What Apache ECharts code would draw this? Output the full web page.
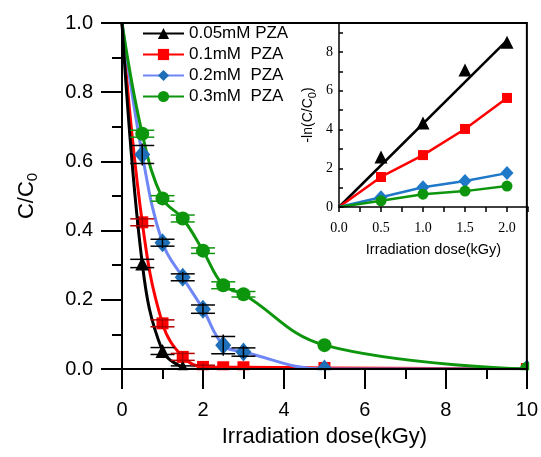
<!DOCTYPE html>
<html><head><meta charset="utf-8">
<script src="https://cdn.jsdelivr.net/npm/echarts@6/dist/echarts.min.js"></script>
<style>html,body{margin:0;padding:0;background:#fff}#c{width:541px;height:457px}</style>
</head><body><div id="c"></div>
<script>
// ---- Main plot data (C/C0 vs dose, kGy) ----
const seriesNames = ['0.05mM PZA', '0.1mM  PZA', '0.2mM  PZA', '0.3mM  PZA'];
const blackX = [0, 0.5, 1.0, 1.5];
const blackY = [1.0, 0.305, 0.052, 0.005];
const blackErr = [0, 0.012, 0.01, 0.004];
const redX = [0, 0.5, 1.0, 1.5, 2.0, 2.5, 3.0, 5.0, 10];
const redY = [1.0, 0.424, 0.132, 0.035, 0.006, 0.005, 0.005, 0.003, 0.0];
const redErr = [0, 0.01, 0.01, 0.01, 0.005, 0, 0, 0, 0];
const blueX = [0, 0.5, 1.0, 1.5, 2.0, 2.5, 3.0, 5.0, 10];
const blueY = [1.0, 0.62, 0.365, 0.265, 0.173, 0.069, 0.049, 0.0, 0.0];
const blueErr = [0, 0.026, 0.01, 0.01, 0.012, 0.025, 0.012, 0, 0];
const greenX = [0, 0.5, 1.0, 1.5, 2.0, 2.5, 3.0, 5.0, 10];
const greenY = [1.0, 0.68, 0.493, 0.435, 0.342, 0.242, 0.216, 0.069, 0.0];
const greenErr = [0, 0.01, 0.008, 0.01, 0.008, 0.01, 0.008, 0, 0];
const mainXTicks = [0, 2, 4, 6, 8, 10];
const mainYTicks = [0.0, 0.2, 0.4, 0.6, 0.8, 1.0];

// ---- Inset data (-ln(C/C0) vs dose) ----
const insetX = [0, 0.5, 1.0, 1.5, 2.0];
const insetBlackPts = [null, 2.58, 4.34, 7.07, 8.5];
const insetBlackFitX = [0, 2.0];
const insetBlackFitY = [0, 8.6];
const insetRed = [0, 1.55, 2.68, 4.03, 5.63];
const insetBlue = [0, 0.5, 1.02, 1.34, 1.75];
const insetGreen = [0, 0.32, 0.66, 0.82, 1.08];

const FONT = 'Liberation Sans, Arial, sans-serif';
const SERIF = 'Liberation Serif, Times New Roman, serif';

const G0 = {left: 122, right: 13, top: 23, bottom: 88};
const G1 = {left: 339, right: 13, top: 23, bottom: 250};
const W = 541, H = 457;

function pairs(xs, ys, hideFirst) {
  return xs.map((x, i) => {
    if (ys[i] === null) return null;
    const item = {value: [x, ys[i]]};
    if (hideFirst && x === 0) item.symbol = 'none';
    return item;
  }).filter(d => d);
}
function errData(xs, ys, es) {
  return xs.map((x, i) => [x, ys[i], es[i]]).filter(d => d[2] > 0);
}
function errSeries(xs, ys, es, color) {
  return {
    type: 'custom', xAxisIndex: 0, yAxisIndex: 0, z: 4,
    data: errData(xs, ys, es),
    renderItem: function (params, api) {
      const x = api.value(0), y = api.value(1), e = api.value(2);
      const top = api.coord([x, y + e]);
      const bot = api.coord([x, y - e]);
      const c = api.coord([x, y]);
      const hw = 12;
      const st = {stroke: color, lineWidth: 1.5};
      return {type: 'group', children: [
        {type: 'line', shape: {x1: c[0], y1: top[1] - 2, x2: c[0], y2: bot[1] + 2}, style: st},
        {type: 'line', shape: {x1: c[0] - hw, y1: top[1], x2: c[0] + hw, y2: top[1]}, style: st},
        {type: 'line', shape: {x1: c[0] - hw, y1: bot[1], x2: c[0] + hw, y2: bot[1]}, style: st}
      ]};
    }
  };
}

const axisLineMain = {lineStyle: {color: '#000', width: 2}};
const tickStyle = {color: '#000', width: 2};

const option = {
  animation: false,
  backgroundColor: '#fff',
  textStyle: {fontFamily: FONT},
  grid: [
    Object.assign({show: true, borderColor: '#000', borderWidth: 2, backgroundColor: 'transparent', z: 10}, G0),
    Object.assign({show: false}, G1)
  ],
  legend: {
    data: seriesNames,
    orient: 'vertical', left: 142, top: 25, z: 12, padding: 0,
    itemWidth: 41, itemHeight: 14, itemGap: 4,
    textStyle: {fontSize: 17, color: '#000', fontFamily: FONT},
    inactiveColor: '#000'
  },
  xAxis: [
    {gridIndex: 0, type: 'value', min: 0, max: 10, interval: 2, z: 10,
      axisLine: axisLineMain,
      axisTick: {length: 20, lineStyle: tickStyle},
      minorTick: {show: true, splitNumber: 2, length: 10, lineStyle: tickStyle},
      splitLine: {show: false},
      axisLabel: {margin: 31, fontSize: 20, color: '#000', fontFamily: FONT,
        formatter: v => mainXTicks.includes(v) ? String(v) : ''},
      name: 'Irradiation dose(kGy)', nameLocation: 'middle', nameGap: 57,
      nameTextStyle: {fontSize: 22, color: '#000', fontFamily: FONT}
    },
    {gridIndex: 1, type: 'value', min: 0, max: 2.25, interval: 0.25, z: 10,
      axisLine: {lineStyle: {color: '#000', width: 1.5}},
      axisTick: {length: 5, lineStyle: {color: '#000', width: 1.5}},
      splitLine: {show: false},
      axisLabel: {margin: 14, fontSize: 14, color: '#000', fontFamily: SERIF,
        formatter: v => insetX.some(t => Math.abs(t - v) < 1e-6) ? v.toFixed(1) : ''},
      name: 'Irradiation dose(kGy)', nameLocation: 'middle', nameGap: 35,
      nameTextStyle: {fontSize: 14.5, color: '#000', fontFamily: FONT}
    }
  ],
  yAxis: [
    {gridIndex: 0, type: 'value', min: 0, max: 1, interval: 0.2, z: 10,
      axisLine: axisLineMain,
      axisTick: {length: 21, lineStyle: tickStyle},
      minorTick: {show: true, splitNumber: 2, length: 10, lineStyle: tickStyle},
      splitLine: {show: false},
      axisLabel: {margin: 29, fontSize: 20, color: '#000', fontFamily: FONT,
        formatter: v => mainYTicks.some(t => Math.abs(t - v) < 1e-6) ? v.toFixed(1) : ''},
      name: '{a|C/C}{s|0}', nameLocation: 'middle', nameGap: 82,
      nameTextStyle: {color: '#000', rich: {
        a: {fontSize: 22, color: '#000', fontFamily: FONT},
        s: {fontSize: 15, color: '#000', fontFamily: FONT, padding: [12, 0, 0, 0]}
      }}
    },
    {gridIndex: 1, type: 'value', min: 0, max: 9.5, interval: 1, z: 10,
      axisLine: {lineStyle: {color: '#000', width: 1.5}},
      axisTick: {length: 4, inside: true, lineStyle: {color: '#000', width: 1.5}},
      splitLine: {show: false},
      axisLabel: {margin: 6, fontSize: 14, color: '#000', fontFamily: SERIF,
        formatter: v => (Math.abs(v % 2) < 1e-6 && v <= 8) ? String(v) : ''},
      name: '{a|-ln(C/C}{s|0}{a|)}', nameLocation: 'middle', nameGap: 21,
      nameTextStyle: {color: '#000', rich: {
        a: {fontSize: 14, color: '#000', fontFamily: FONT},
        s: {fontSize: 11, color: '#000', fontFamily: FONT, padding: [8, 0, 0, 0]}
      }}
    }
  ],
  graphic: [
    {type: 'rect', z: 6, silent: true, shape: {x: 0, y: H - G0.bottom + 1.2, width: W, height: G0.bottom}, style: {fill: '#fff'}},
    {type: 'rect', z: 6, silent: true, shape: {x: W - G0.right + 1.2, y: 0, width: G0.right, height: H}, style: {fill: '#fff'}}
  ],
  series: [
    {name: seriesNames[0], type: 'line', xAxisIndex: 0, yAxisIndex: 0, z: 3,
      data: pairs(blackX, blackY, true), smooth: 0.4,
      symbol: 'triangle', symbolSize: 14,
      lineStyle: {color: '#000', width: 3}, itemStyle: {color: '#000'}},
    {name: seriesNames[1], type: 'line', xAxisIndex: 0, yAxisIndex: 0, z: 2,
      data: pairs(redX, redY, true), smooth: 0.4,
      symbol: 'rect', symbolSize: 12,
      lineStyle: {color: '#ff0000', width: 3}, itemStyle: {color: '#ff0000'}},
    {name: seriesNames[2], type: 'line', xAxisIndex: 0, yAxisIndex: 0, z: 2,
      data: pairs(blueX, blueY, true), smooth: 0.4,
      symbol: 'diamond', symbolSize: [16, 19],
      lineStyle: {color: '#6f86f7', width: 3}, itemStyle: {color: '#1f6fb8'}},
    {name: seriesNames[3], type: 'line', xAxisIndex: 0, yAxisIndex: 0, z: 2,
      data: pairs(greenX, greenY, true), smooth: 0.4,
      symbol: 'circle', symbolSize: 14,
      lineStyle: {color: '#0d960d', width: 3}, itemStyle: {color: '#0d960d'}},
    errSeries(blackX, blackY, blackErr, '#000'),
    errSeries(redX, redY, redErr, '#b00000'),
    errSeries(blueX, blueY, blueErr, '#000'),
    errSeries(greenX, greenY, greenErr, '#0d960d'),
    // inset
    {name: 'fit-black', type: 'line', xAxisIndex: 1, yAxisIndex: 1, symbol: 'none',
      data: pairs(insetBlackFitX, insetBlackFitY, false),
      lineStyle: {color: '#000', width: 2.5}},
    {name: 'pts-black', type: 'scatter', xAxisIndex: 1, yAxisIndex: 1,
      data: pairs(insetX, insetBlackPts, false), symbol: 'triangle', symbolSize: 13,
      itemStyle: {color: '#000', opacity: 1}},
    {name: 'in-red', type: 'line', xAxisIndex: 1, yAxisIndex: 1,
      data: pairs(insetX, insetRed, true), symbol: 'rect', symbolSize: 10,
      lineStyle: {color: '#ff0000', width: 2.5}, itemStyle: {color: '#ff0000'}},
    {name: 'in-blue', type: 'line', xAxisIndex: 1, yAxisIndex: 1,
      data: pairs(insetX, insetBlue, true), symbol: 'diamond', symbolSize: [13, 14],
      lineStyle: {color: '#1f78c8', width: 2.5}, itemStyle: {color: '#1f78c8'}},
    {name: 'in-green', type: 'line', xAxisIndex: 1, yAxisIndex: 1,
      data: pairs(insetX, insetGreen, true), symbol: 'circle', symbolSize: 11,
      lineStyle: {color: '#0d960d', width: 2.5}, itemStyle: {color: '#0d960d'}}
  ]
};
const chart = echarts.init(document.getElementById('c'), null, {renderer: 'canvas'});
chart.setOption(option);
</script></body></html>
